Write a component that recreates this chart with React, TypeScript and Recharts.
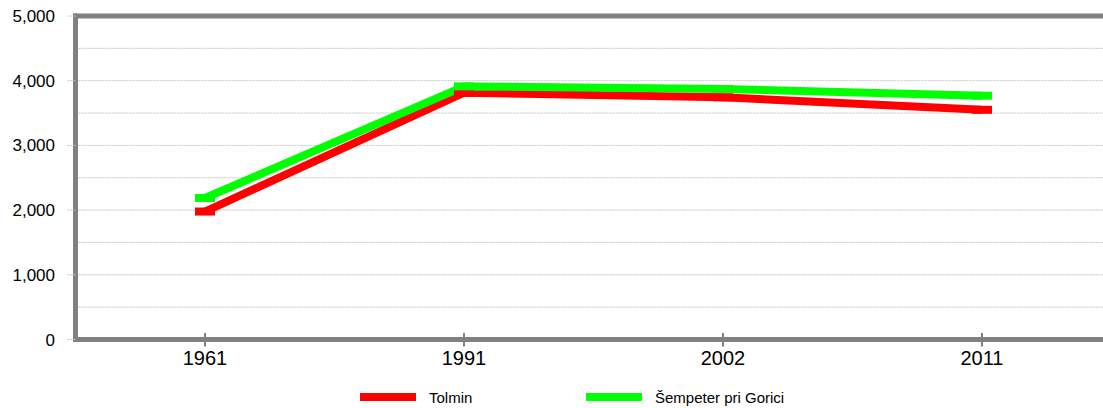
import React from 'react';
import { LineChart, Line, XAxis, YAxis, CartesianGrid, Legend, ReferenceLine } from 'recharts';

const years = ['1961', '1991', '2002', '2011'];
const tolmin = [1978, 3815, 3743, 3550];
const sempeter = [2187, 3912, 3872, 3768];
const yTicks = [0, 1000, 2000, 3000, 4000, 5000];
const gridValues = [500, 1000, 1500, 2000, 2500, 3000, 3500, 4000, 4500];

const seriesNames = ['Tolmin', 'Šempeter pri Gorici'];
const seriesColors = ['#ff0000', '#00ff00'];

const data = years.map((y, i) => ({ year: y, tolmin: tolmin[i], sempeter: sempeter[i] }));

const FONT = '"Liberation Sans", Arial, sans-serif';
const AXIS_GRAY = '#808080';
const GRID_GRAY = '#c4c4c4';

const XTick = (props: any) => {
  const { x, y, payload } = props;
  return (
    <g>
      <line x1={x} x2={x} y1={y - 6.5} y2={y + 7} stroke={AXIS_GRAY} strokeWidth={2} />
      <text x={x} y={y + 25.5} textAnchor="middle" fontSize={20} fill="#000" fontFamily={FONT}>
        {payload.value}
      </text>
    </g>
  );
};

const makeDot = (color: string) => (props: any) => {
  const { cx, cy, index } = props;
  if (cx == null || cy == null) return <g key={index} />;
  return <rect key={index} x={cx - 10} y={cy - 4} width={20} height={8} fill={color} />;
};

const LegendContent = () => {
  const lefts = [360, 586];
  return (
    <div style={{ position: 'relative', width: 1103, height: 22, fontFamily: FONT }}>
      {seriesNames.map((name, i) => (
        <div
          key={name}
          style={{ position: 'absolute', left: lefts[i], top: 0, height: 22, display: 'flex', alignItems: 'center' }}
        >
          <div style={{ width: 56, height: 8, background: seriesColors[i] }} />
          <span style={{ marginLeft: 13, fontSize: 15, color: '#000' }}>{name}</span>
        </div>
      ))}
    </div>
  );
};

export default function App() {
  return (
    <div style={{ position: 'absolute', left: 0, top: 0, width: 1103, height: 408, overflow: 'hidden', background: '#fff' }}>
      <LineChart
        width={1120}
        height={408}
        data={data}
        margin={{ top: 16, right: 8.5, left: 0, bottom: 0 }}
        style={{ fontFamily: FONT }}
      >
        <CartesianGrid
          vertical={false}
          horizontalValues={gridValues}
          stroke={GRID_GRAY}
          strokeDasharray="2 1"
        />
        <XAxis
          dataKey="year"
          type="category"
          padding={{ left: 129.5, right: 129.5 }}
          height={46.5}
          tickSize={0}
          tickMargin={0}
          tickLine={false}
          tick={<XTick />}
          axisLine={{ stroke: AXIS_GRAY, strokeWidth: 5, strokeLinecap: 'square' }}
          interval={0}
        />
        <YAxis
          type="number"
          domain={[0, 5000]}
          ticks={yTicks}
          width={75.5}
          tickSize={8}
          tickMargin={12.5}
          tickLine={{ stroke: GRID_GRAY, strokeDasharray: '2 1' }}
          axisLine={{ stroke: AXIS_GRAY, strokeWidth: 5, strokeLinecap: 'square' }}
          tick={{ fill: '#000', fontSize: 17, fontFamily: FONT }}
          tickFormatter={(v: number) => v.toLocaleString('en-US')}
          interval={0}
        />
        <ReferenceLine y={5000} stroke={AXIS_GRAY} strokeWidth={5} strokeLinecap="square" ifOverflow="visible" />
        <Legend verticalAlign="bottom" content={<LegendContent />} wrapperStyle={{ left: 0, width: 1103 }} />
        <Line
          dataKey="tolmin"
          name={seriesNames[0]}
          stroke={seriesColors[0]}
          strokeWidth={8}
          dot={makeDot(seriesColors[0])}
          activeDot={false}
          isAnimationActive={false}
        />
        <Line
          dataKey="sempeter"
          name={seriesNames[1]}
          stroke={seriesColors[1]}
          strokeWidth={8}
          dot={makeDot(seriesColors[1])}
          activeDot={false}
          isAnimationActive={false}
        />
      </LineChart>
    </div>
  );
}
